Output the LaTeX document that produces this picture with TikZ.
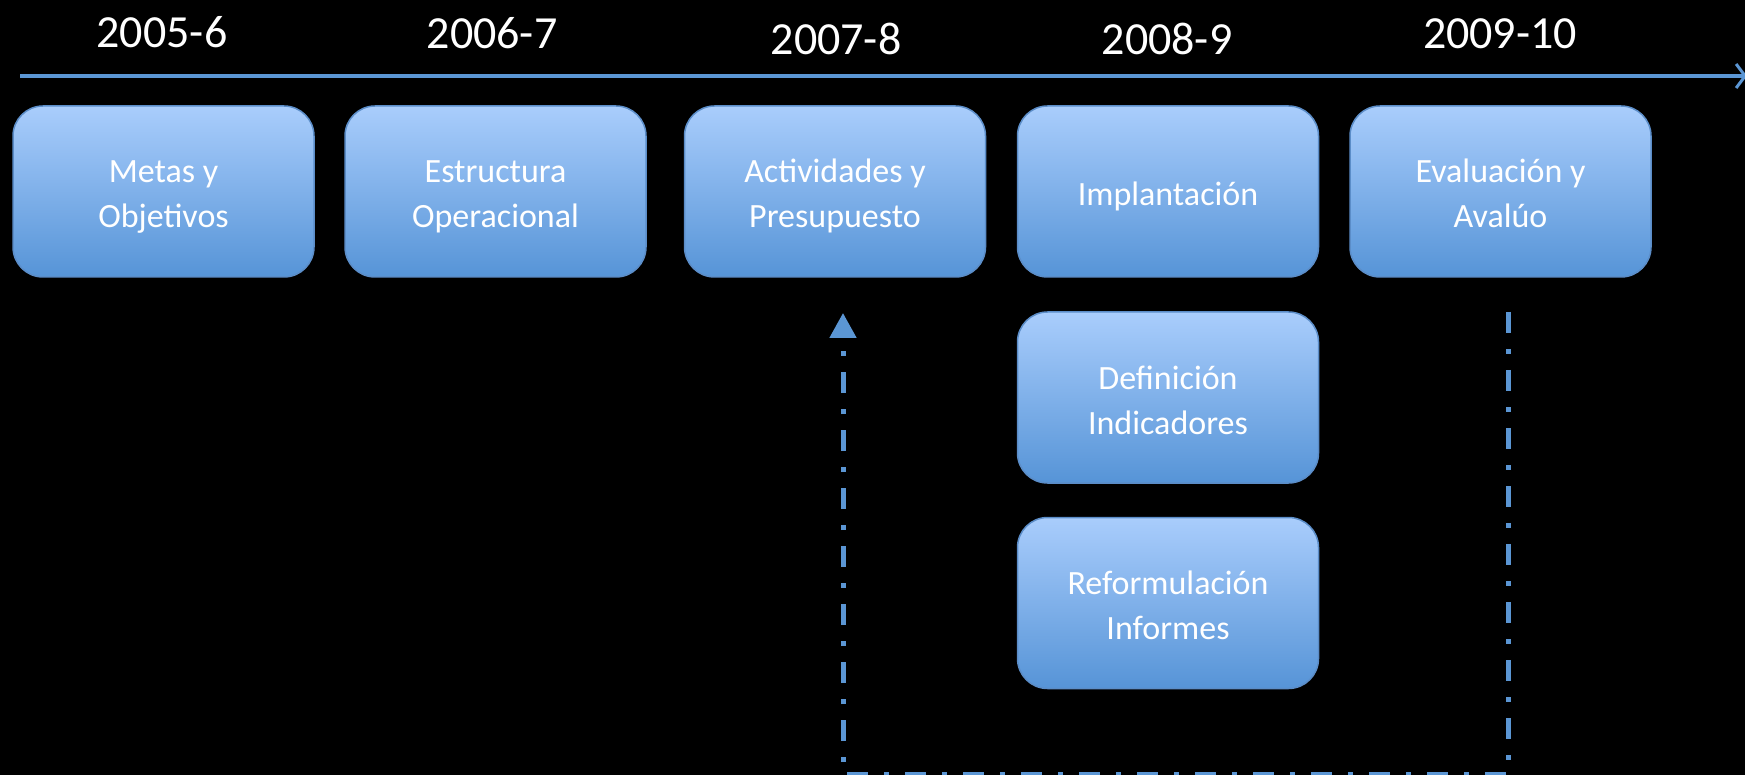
\documentclass[tikz,border=0pt]{standalone}
\usepackage{fontspec}
\setmainfont{Carlito}
\usetikzlibrary{arrows.meta}

\definecolor{linea}{HTML}{5B96D4}
\definecolor{cajaarriba}{HTML}{A9CDFC}
\definecolor{cajaabajo}{HTML}{5694D7}
\definecolor{borde}{HTML}{5B8DC8}

%% 줄 높이 맞춤
\newcommand\alto{\rule{0pt}{36pt}}
\newcommand\bajo{\rule[-8pt]{0pt}{8pt}}

\tikzset{
  caja/.style={draw=borde, line width=1.5pt, rounded corners=30pt,
    top color=cajaarriba, bottom color=cajaabajo,
    minimum width=301pt, minimum height=171pt, align=center,
    text=white, font=\fontsize{34}{45}\selectfont},
  anio/.style={text=white, font=\fontsize{46}{50}\selectfont},
  ciclo/.style={draw=linea, line width=5pt,
    dash pattern=on 21pt off 16pt on 5pt off 16pt}
}

\begin{document}
\begin{tikzpicture}[x=1pt,y=-1pt]
\fill[black] (0,0) rectangle (1745,775);
\useasboundingbox (0,0) rectangle (1745,775);
%% 연도
\node[anio] (a1) at (162,32) {2005-6};
\node[anio] (a2) at (492,33) {2006-7};
\node[anio] (a3) at (836,39) {2007-8};
\node[anio] (a4) at (1167,39) {2008-9};
\node[anio] (a5) at (1500,34) {2009-10};
%% 시간 축
\coordinate (ini) at (20,76);
\coordinate (fin) at (1747,76);
\draw[linea, line width=4pt, -{Straight Barb[length=9pt,width=24pt,line width=3pt]}] (ini) -- (fin);
%% 상자
\node[caja] (metas) at (163.5,191.5) {\alto Metas y\\Objetivos\bajo};
\node[caja] (estructura) at (495.5,191.5) {\alto Estructura\\Operacional\bajo};
\node[caja] (actividades) at (835,191.5) {\alto Actividades y\\Presupuesto\bajo};
\node[caja] (implantacion) at (1168,191.5) {\alto Implantación\bajo};
\node[caja] (evaluacion) at (1500.5,191.5) {\alto Evaluación y\\Avalúo\bajo};
\node[caja] (definicion) at (1168,397.5) {\alto Definición\\Indicadores\bajo};
\node[caja] (reformulacion) at (1168,603) {\alto Reformulación\\Informes\bajo};
%% 되돌림 화살표
\coordinate (desde) at (1508,312);
\coordinate (hasta) at (843,313);
\draw[ciclo, -{Triangle[length=25pt,width=26pt]}]
  (desde) -- (1508,774) -- (843,774) -- (hasta);
\end{tikzpicture}
\end{document}
